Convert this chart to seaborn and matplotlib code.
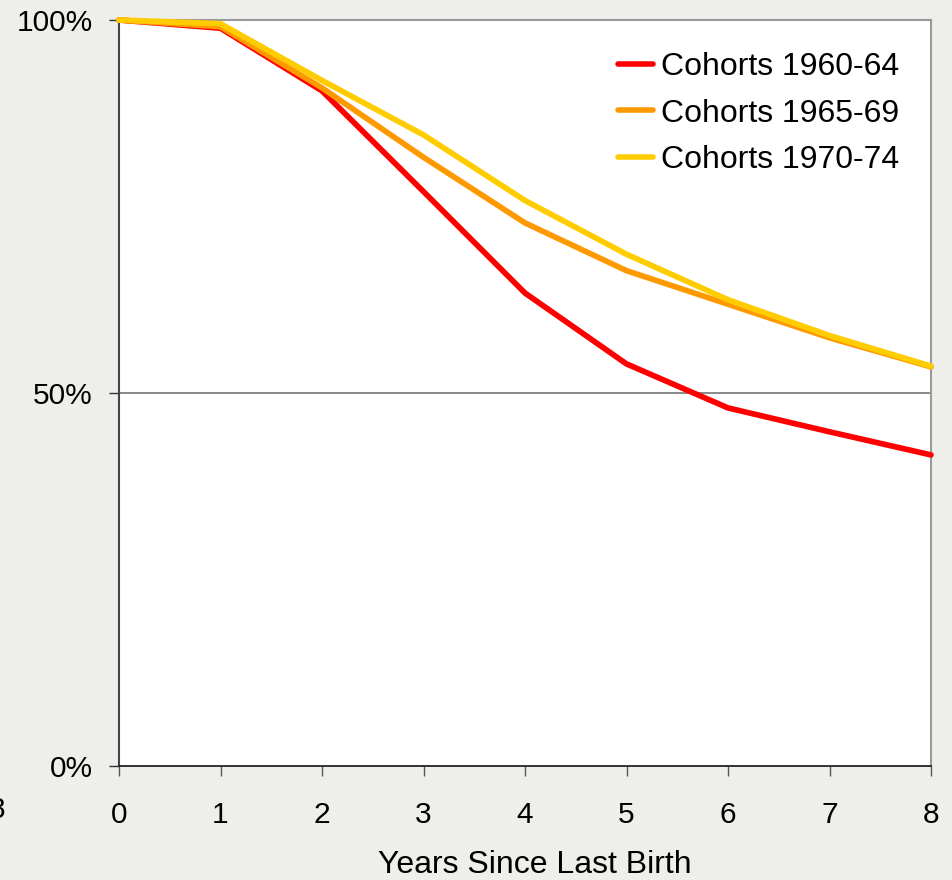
import matplotlib
matplotlib.use("Agg")
import matplotlib.pyplot as plt
import seaborn as sns
import pandas as pd
from matplotlib.ticker import FuncFormatter

years = [0, 1, 2, 3, 4, 5, 6, 7, 8]
cohorts = ["Cohorts 1960-64", "Cohorts 1965-69", "Cohorts 1970-74"]
c1960_64 = [100, 98.9, 90.5, 77.0, 63.4, 53.9, 48.0, 44.8, 41.7]
c1965_69 = [100, 99.1, 90.9, 81.6, 72.8, 66.4, 61.9, 57.4, 53.5]
c1970_74 = [100, 99.5, 91.9, 84.6, 75.8, 68.6, 62.5, 57.7, 53.6]
colors = ["#FF0000", "#FF9900", "#FFCC00"]
y_ticks = [0, 50, 100]

rows = []
for name, vals in zip(cohorts, [c1960_64, c1965_69, c1970_74]):
    for x, v in zip(years, vals):
        rows.append({"year": x, "value": v, "cohort": name})
df = pd.DataFrame(rows)

sns.set_theme(style="white")
plt.rcParams["font.family"] = ["Liberation Sans", "DejaVu Sans"]

bg = "#EEEEEA"
fig = plt.figure(figsize=(9.52, 8.8), dpi=100, facecolor=bg)
ax = fig.add_axes([119/952, 1-766/880, (931-119)/952, (766-20)/880])
ax.set_facecolor("white")

ax.axhline(50, color="#808080", lw=1.3, zorder=1)

sns.lineplot(data=df, x="year", y="value", hue="cohort", hue_order=cohorts,
             palette=colors, lw=4.1, ax=ax, zorder=3, clip_on=False)

ax.set_xlim(0, 8)
ax.set_ylim(0, 100)
ax.set_xticks(years)
ax.set_yticks(y_ticks)
ax.yaxis.set_major_formatter(FuncFormatter(lambda v, p: f"{int(v)}%"))
ax.tick_params(axis="x", direction="out", length=7, width=1, color="#555555",
               pad=18, labelsize=21.5, labelcolor="black", bottom=True)
ax.tick_params(axis="y", direction="out", length=7, width=1, color="#333333",
               pad=12, labelsize=21.5, labelcolor="black", left=True)

ax.spines["left"].set_color("#444444")
ax.spines["left"].set_linewidth(1.5)
ax.spines["bottom"].set_color("#222222")
ax.spines["bottom"].set_linewidth(1.3)
for side in ["top", "right"]:
    ax.spines[side].set_color("#999999")
    ax.spines[side].set_linewidth(1.5)

ax.set_xlabel("Years Since Last Birth", fontsize=23, color="black")
ax.xaxis.set_label_coords((535 - 119) / 812, -0.112)
ax.set_ylabel("")

leg = ax.legend(loc="upper right", frameon=False, fontsize=23,
                handlelength=1.1, handletextpad=0.25, labelspacing=0.52,
                borderaxespad=0.6, borderpad=0.4, bbox_to_anchor=(1.0, 1.0))
for line in leg.get_lines():
    line.set_linewidth(4)
for t in leg.get_texts():
    t.set_color("black")

fig.text(5/952, 1-810/880, "8", fontsize=21.5, ha="right", va="center", color="black")

fig.savefig("out.png", dpi=100, facecolor=bg)
